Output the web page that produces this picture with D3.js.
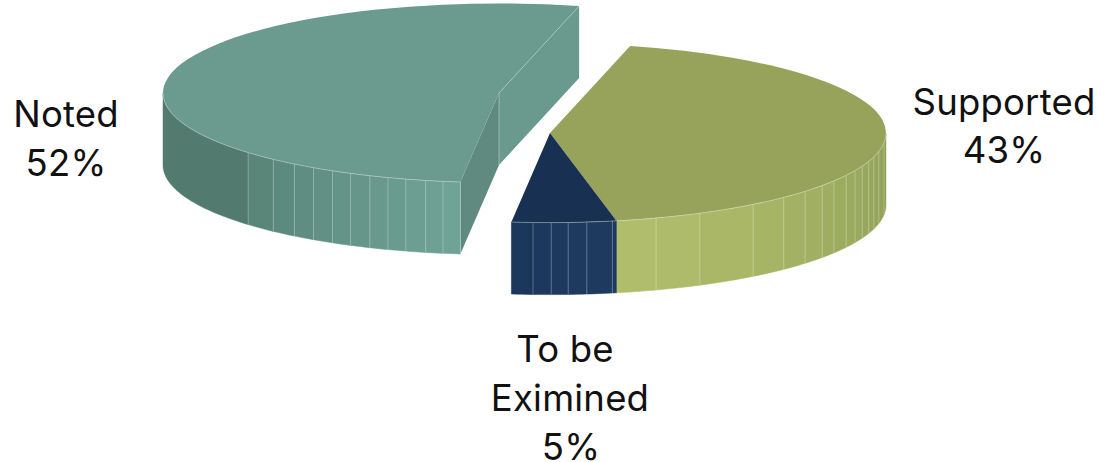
<!DOCTYPE html>
<html><head><meta charset="utf-8">
<script src="https://cdnjs.cloudflare.com/ajax/libs/d3/7.8.5/d3.min.js"></script>
<style>html,body{margin:0;background:#fff}svg{display:block}
text{font-family:Inter,"Noto Sans",sans-serif;font-size:36.5px;fill:#111;text-anchor:middle;letter-spacing:.2px}</style>
</head><body><svg id="c" width="1113" height="462"></svg>
<script>
const categories = ["Supported", "To be Eximined", "Noted"];
const values = [43, 5, 52];
const startDeg = 13.8;
const seamsSupported = [161.6,153.5,142.8,135.9,130.6,125.9,122.3,118.2,114.8,111.7,108.4,105.4,101.8,96.2];
const seamsExamined = [182.9,179.8,176.9,173.7,169.3];
const seamsNoted = [228.3,222.2,217.5,213.5,209.7,206.2,202.6,199.3,196.1,192.6,189.6];
const labelLines = [["Supported","43%"],["To be","Eximined","5%"],["Noted","52%"]];

const rx=336, ry=89.6, depth=72;
const rad=Math.PI/180;
const svg=d3.select("#c");
const pie=d3.pie().sort(null).value(d=>d).startAngle(startDeg*rad).endAngle((startDeg+360)*rad);
const arcs=pie(values);
const arc=d3.arc().innerRadius(0).outerRadius(rx);
const style=[
 {c:[550,133],top:"#97a35b",side:["#8f9f57","#b2c06d"],domain:[90,168.7],seams:seamsSupported,label:[[1004,115],[1004,163]]},
 {c:[550,133],top:"#183052",side:["#1f3c60","#1b365a"],domain:[168.7,186.7],seams:seamsExamined,label:[[565,362],[570,411],[571,460]]},
 {c:[499,93],top:"#6b9a8e",side:["#70a497","#527a6f"],domain:[186.7,240],seams:seamsNoted,label:[[66,127],[66,176]]}
];
const pt=(c,a,dy=0)=>[c[0]+rx*Math.sin(a),c[1]-ry*Math.cos(a)+dy];
const line=d3.line();
function sidePath(c,a0,a1){
  const n=Math.max(2,Math.ceil(Math.abs(a1-a0)/rad));
  const s=d3.range(n+1).map(i=>a0+(a1-a0)*i/n);
  return line([...s.map(a=>pt(c,a)),...s.reverse().map(a=>pt(c,a,depth))])+"Z";
}
const order=[2,0,1];
order.forEach(i=>{
  const d=arcs[i], st=style[i], c=st.c, g=svg.append("g");
  const col=d3.scaleLinear().domain(st.domain).range(st.side).clamp(true).interpolate(d3.interpolateRgb);
  // radial cut walls of the exploded slice
  if(i===2){
    const p=[c,pt(c,d.endAngle),pt(c,d.endAngle,depth),[c[0],c[1]+depth]];
    g.append("path").attr("d",line(p)+"Z").attr("fill","#6a9a8e");
    const q=[c,pt(c,d.startAngle),pt(c,d.startAngle,depth),[c[0],c[1]+depth]];
    g.append("path").attr("d",line(q)+"Z").attr("fill","#60897f");
    g.append("path").attr("d",line([c,[c[0],c[1]+depth]])).attr("stroke","#fff").attr("stroke-opacity",.35).attr("fill","none");
  }
  // visible front wall, split at the seams
  const front0=Math.max(d.startAngle,90*rad), front1=Math.min(d.endAngle,270*rad);
  const cuts=[front0,...st.seams.map(a=>a*rad).filter(a=>a>front0&&a<front1).sort(d3.ascending),front1];
  d3.pairs(cuts).forEach(([a0,a1])=>{
    g.append("path").attr("d",sidePath(c,a0,a1))
      .attr("fill",col((a0+a1)/2/rad)).attr("stroke",col((a0+a1)/2/rad)).attr("stroke-width",.5);
  });
  st.seams.forEach(a=>{
    g.append("path").attr("d",line([pt(c,a*rad),pt(c,a*rad,depth)]))
      .attr("stroke","#fff").attr("stroke-opacity",.28).attr("stroke-width",1).attr("fill","none");
  });
  // top face
  g.append("path").attr("d",arc(d)).attr("transform",`translate(${c}) scale(1,${ry/rx})`).attr("fill",st.top);
  // light rim along the front
  const rim=d3.range(0,61).map(k=>front0+(front1-front0)*k/60).map(a=>pt(c,a));
  g.append("path").attr("d",line(rim)).attr("fill","none").attr("stroke","#fff").attr("stroke-opacity",.4).attr("stroke-width",.8);
  if(i===2) g.append("path").attr("d",line([c,pt(c,d.endAngle)])).attr("stroke","#fff").attr("stroke-opacity",.25).attr("fill","none");
  if(i===2) g.append("path").attr("d",line([pt(c,d.startAngle),pt(c,d.startAngle,depth)])).attr("stroke","#fff").attr("stroke-opacity",.3).attr("fill","none");
});
labelLines.forEach((ls,i)=>ls.forEach((t,j)=>{
  const [x,y]=style[i].label[j];
  svg.append("text").attr("x",x).attr("y",y).text(t);
}));
</script></body></html>
